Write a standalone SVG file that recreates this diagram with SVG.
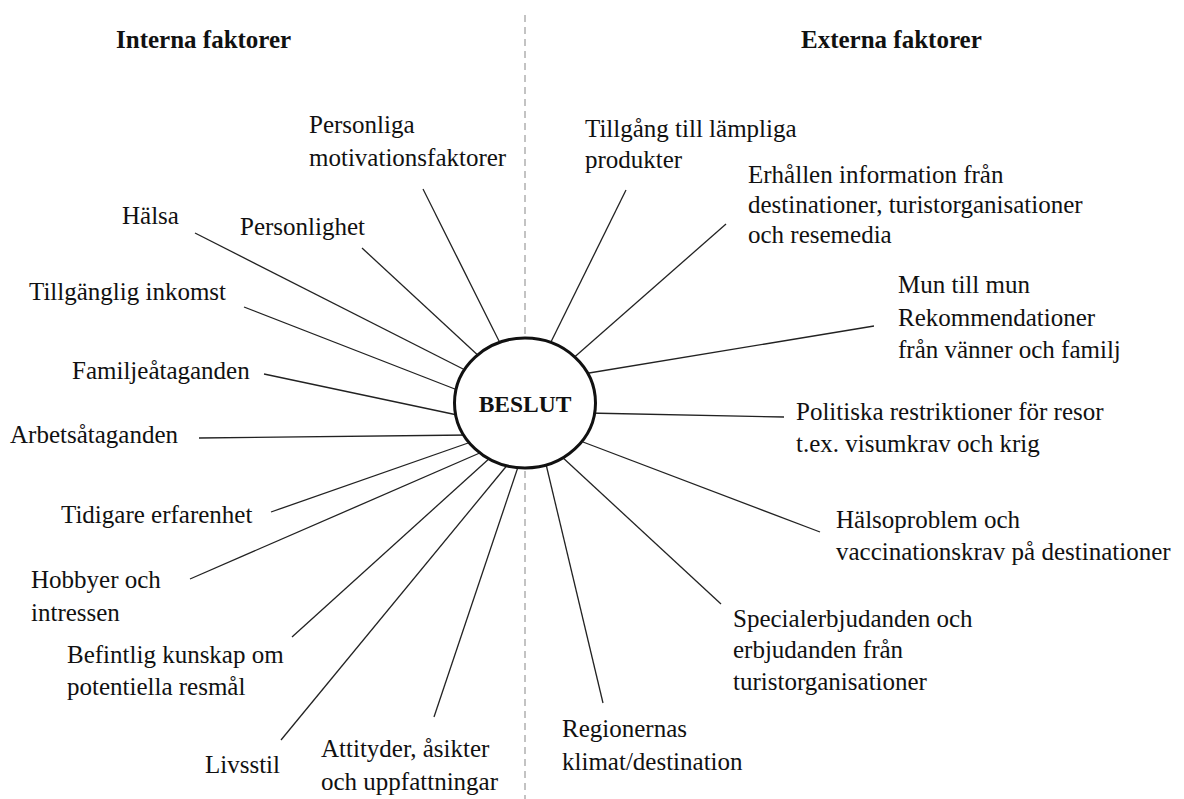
<svg xmlns="http://www.w3.org/2000/svg" width="1184" height="799" viewBox="0 0 1184 799">
<style>
  text { font-family: "Liberation Serif", "Times New Roman", serif; font-size: 25px; fill: #111; }
  .hdr { font-weight: bold; }
  .center { font-weight: bold; font-size: 23.5px; text-anchor: middle; }
  .conn line { stroke: #222; stroke-width: 1.3; }
  .divider { stroke: #b0b0b0; stroke-width: 1.5; stroke-dasharray: 7 5; }
</style>
<rect width="1184" height="799" fill="#fff"/>
<line class="divider" x1="525" y1="15" x2="525" y2="799"/>
<text class="hdr" x="116" y="48">Interna faktorer</text>
<text class="hdr" x="801" y="48">Externa faktorer</text>
<g id="connectors" class="conn">
  <line x1="423" y1="189" x2="503" y2="349"/>
  <line x1="362" y1="248" x2="482" y2="359"/>
  <line x1="195" y1="233" x2="469" y2="372"/>
  <line x1="244" y1="307" x2="460" y2="391"/>
  <line x1="264" y1="374" x2="462" y2="416"/>
  <line x1="199" y1="438" x2="469" y2="435"/>
  <line x1="271" y1="512" x2="471" y2="442"/>
  <line x1="190" y1="579" x2="482" y2="452"/>
  <line x1="292" y1="637" x2="491" y2="457"/>
  <line x1="281" y1="740" x2="509" y2="463"/>
  <line x1="434" y1="717" x2="519" y2="464"/>
  <line x1="626" y1="190" x2="547" y2="350"/>
  <line x1="726" y1="224" x2="570" y2="361"/>
  <line x1="874" y1="326" x2="583" y2="374"/>
  <line x1="784" y1="417" x2="587" y2="413"/>
  <line x1="820" y1="532" x2="583" y2="442"/>
  <line x1="721" y1="604" x2="561" y2="456"/>
  <line x1="603" y1="703" x2="545" y2="460"/>
</g>
<g id="beslut">
  <ellipse cx="525" cy="403" rx="70.5" ry="65" fill="#fff" stroke="#111" stroke-width="3"/>
  <text class="center" x="525" y="412">BESLUT</text>
</g>
<g id="personliga"><text x="309" y="133">Personliga</text><text x="309" y="166">motivationsfaktorer</text></g>
<g id="halsa"><text x="122" y="224">Hälsa</text></g>
<g id="personlighet"><text x="240" y="235">Personlighet</text></g>
<g id="inkomst"><text x="29" y="300">Tillgänglig inkomst</text></g>
<g id="familj"><text x="72" y="379">Familjeåtaganden</text></g>
<g id="arbete"><text x="10" y="443">Arbetsåtaganden</text></g>
<g id="erfarenhet"><text x="61" y="523">Tidigare erfarenhet</text></g>
<g id="hobbyer"><text x="31" y="588">Hobbyer och</text><text x="31" y="621">intressen</text></g>
<g id="kunskap"><text x="67" y="663">Befintlig kunskap om</text><text x="67" y="695">potentiella resmål</text></g>
<g id="livsstil"><text x="205" y="773">Livsstil</text></g>
<g id="attityder"><text x="321" y="757">Attityder, åsikter</text><text x="321" y="790">och uppfattningar</text></g>
<g id="tillgang"><text x="585" y="137">Tillgång till lämpliga</text><text x="585" y="168">produkter</text></g>
<g id="information"><text x="748" y="183">Erhållen information från</text><text x="748" y="213">destinationer, turistorganisationer</text><text x="748" y="243">och resemedia</text></g>
<g id="mun"><text x="898" y="293">Mun till mun</text><text x="898" y="326">Rekommendationer</text><text x="898" y="358">från vänner och familj</text></g>
<g id="politiska"><text x="796" y="420">Politiska restriktioner för resor</text><text x="796" y="452">t.ex. visumkrav och krig</text></g>
<g id="halsoproblem"><text x="836" y="528">Hälsoproblem och</text><text x="836" y="560">vaccinationskrav på destinationer</text></g>
<g id="special"><text x="733" y="627">Specialerbjudanden och</text><text x="733" y="658">erbjudanden från</text><text x="733" y="690">turistorganisationer</text></g>
<g id="regioner"><text x="562" y="737">Regionernas</text><text x="562" y="770">klimat/destination</text></g>
</svg>
